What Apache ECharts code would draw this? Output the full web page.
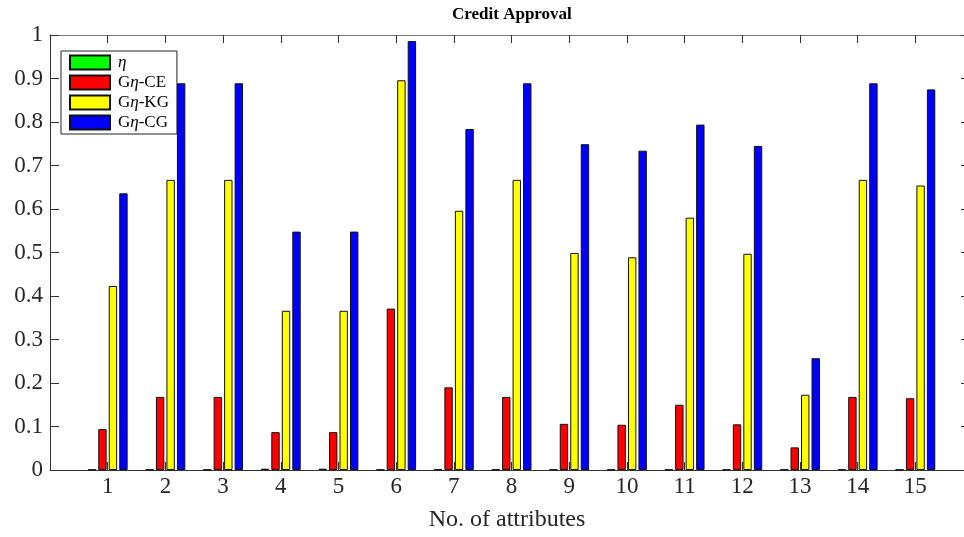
<!DOCTYPE html>
<html><head><meta charset="utf-8">
<script src="https://cdn.jsdelivr.net/npm/echarts@6/dist/echarts.min.js"></script>
<style>html,body{margin:0;padding:0;background:#fff}#c{width:964px;height:537px}</style>
</head><body><div id="c"></div>
<script>
const categories = [1,2,3,4,5,6,7,8,9,10,11,12,13,14,15];
const eta   = [0.001,0.001,0.001,0.003,0.003,0.001,0.001,0.001,0.001,0.001,0.001,0.001,0.001,0.001,0.001];
const gEtaCE = [0.094,0.168,0.168,0.087,0.087,0.371,0.190,0.168,0.106,0.104,0.150,0.105,0.052,0.168,0.165];
const gEtaKG = [0.423,0.667,0.667,0.366,0.366,0.896,0.596,0.667,0.499,0.489,0.580,0.497,0.173,0.667,0.654];
const gEtaCG = [0.636,0.889,0.889,0.548,0.548,0.986,0.784,0.889,0.749,0.734,0.794,0.745,0.257,0.889,0.875];
const seriesNames = ['η','Gη-CE','Gη-KG','Gη-CG'];
const colors = ['#00ff00','#ff0000','#ffff00','#0000ff'];
const yTicks = [0,0.1,0.2,0.3,0.4,0.5,0.6,0.7,0.8,0.9,1];

const font = 'Liberation Serif, Times New Roman, serif';
const allData = [eta, gEtaCE, gEtaKG, gEtaCG];
const chart = echarts.init(document.getElementById('c'));
const axisCol = '#333';
const lblCol = '#262626';
// visible plot: x 50..964 (the original axes box continues past the right edge)
const gridW = 914;
const xMax = gridW / 57.69;
chart.setOption({
  animation: false,
  title: { text: 'Credit Approval', left: 447, top: 1,
    textStyle: { fontFamily: font, fontSize: 17, fontWeight: 'bold', color: '#000' } },
  legend: {
    orient: 'vertical', left: 61, top: 51, icon: 'rect',
    itemWidth: 40, itemHeight: 14, itemGap: 3,
    padding: [3, 8, 3, 8],
    backgroundColor: '#fff', borderColor: '#222', borderWidth: 1, borderRadius: 0,
    data: seriesNames,
    formatter: function (n) { return n.replace('η', '{i|η}'); },
    textStyle: { fontFamily: font, fontSize: 17, lineHeight: 17, color: '#000', padding: [0, 0, 0, 3],
      rich: { i: { fontFamily: font, fontStyle: 'italic', fontSize: 17, lineHeight: 17 } } }
  },
  grid: { left: 50, top: 35, width: gridW, height: 435 },
  xAxis: [{
    type: 'value', min: 0, max: xMax, interval: 1, position: 'bottom',
    name: 'No. of attributes', nameLocation: 'middle', nameGap: 38,
    nameTextStyle: { fontFamily: font, fontSize: 24, color: lblCol, padding: [0, 0, 0, 0] },
    nameMoveOverlap: false,
    axisLine: { show: true, onZero: false, lineStyle: { color: axisCol } },
    axisTick: { show: true, inside: true, length: 8, lineStyle: { color: axisCol } },
    axisLabel: { fontFamily: font, fontSize: 23, color: lblCol, margin: 5, showMaxLabel: false,
      formatter: v => (Number.isInteger(v) && v >= 1 && v <= 15) ? String(categories[v-1]) : '' },
    splitLine: { show: false }
  }, {
    type: 'value', min: 0, max: xMax, interval: 1, position: 'top',
    axisLine: { show: true, onZero: false, lineStyle: { color: '#777' } },
    axisTick: { show: true, inside: true, length: 8, lineStyle: { color: axisCol } },
    axisLabel: { show: false }, splitLine: { show: false }
  }],
  yAxis: [{
    type: 'value', min: 0, max: 1, interval: 0.1, position: 'left',
    axisLine: { show: true, onZero: false, lineStyle: { color: axisCol } },
    axisTick: { show: true, inside: true, length: 9, lineStyle: { color: axisCol } },
    axisLabel: { fontFamily: font, fontSize: 23, color: lblCol, margin: 7,
      formatter: v => { const t = yTicks.find(x => Math.abs(x - v) < 1e-9); return t === undefined ? '' : String(t); } },
    splitLine: { show: false }
  }, {
    type: 'value', min: 0, max: 1, interval: 0.1, position: 'right',
    axisLine: { show: false, onZero: false },
    axisTick: { show: true, inside: true, length: 3, lineStyle: { color: axisCol } },
    axisLabel: { show: false }, splitLine: { show: false }
  }],
  series: seriesNames.map((n, k) => ({
    name: n, type: 'bar', xAxisIndex: 0, yAxisIndex: 0,
    barWidth: 8.4, barGap: '25%',
    itemStyle: { color: colors[k], borderColor: '#111', borderWidth: 1 },
    data: categories.map((c, i) => [c, allData[k][i]])
  }))
});
</script></body></html>
